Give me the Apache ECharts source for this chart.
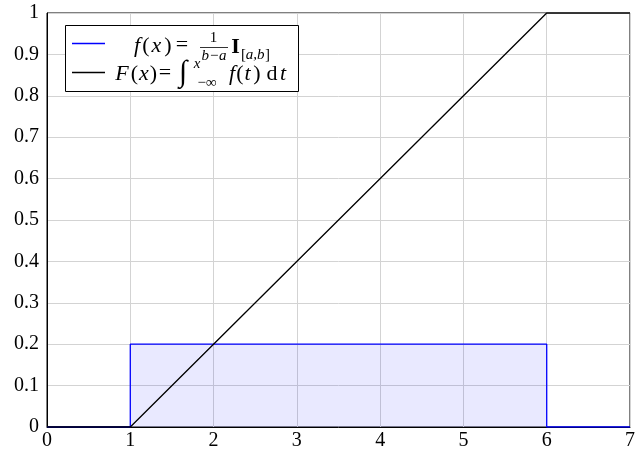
<!DOCTYPE html>
<html><head><meta charset="utf-8">
<script src="https://cdn.jsdelivr.net/npm/echarts@6/dist/echarts.min.js"></script>
<style>html,body{margin:0;padding:0;background:#fff}#c{width:643px;height:452px}</style>
</head><body><div id="c"></div>
<script>
const pdfX = [0, 1, 1, 6, 6, 7];
const pdfY = [0, 0, 0.2, 0.2, 0, 0];
const cdfX = [0, 1, 6, 7];
const cdfY = [0, 0, 1, 1];
const xTicks = [0, 1, 2, 3, 4, 5, 6, 7];
const yTicks = [0, 0.1, 0.2, 0.3, 0.4, 0.5, 0.6, 0.7, 0.8, 0.9, 1];

const FONT = 'Liberation Serif';
const chart = echarts.init(document.getElementById('c'), null, {renderer: 'canvas'});
const zip = (a, b) => a.map((v, i) => [v, b[i]]);

function t(text, x, y, size, style, weight) {
  return {type: 'text', x: x, y: y, z: 101,
    style: {text: text, fontFamily: FONT, fontSize: size, fontStyle: style || 'normal',
      fontWeight: weight || 'normal', fill: '#000', align: 'center', verticalAlign: 'middle'}};
}
const B = 22, SM = 15;

chart.setOption({
  animation: false,
  grid: {left: 47, right: 13, top: 13, bottom: 25, show: true, borderColor: '#000', borderWidth: 1},
  xAxis: {
    type: 'value', min: 0, max: 7, interval: 1,
    axisLine: {show: true, onZero: false, lineStyle: {color: '#000'}},
    axisTick: {show: false},
    splitLine: {show: true, lineStyle: {color: '#d3d3d3', width: 1}},
    axisLabel: {fontFamily: FONT, fontSize: 20, color: '#000', margin: 4,
      formatter: v => xTicks.includes(v) ? String(v) : ''}
  },
  yAxis: {
    type: 'value', min: 0, max: 1, interval: 0.1,
    axisLine: {show: true, onZero: false, lineStyle: {color: '#000'}},
    axisTick: {show: false},
    splitLine: {show: true, lineStyle: {color: '#d3d3d3', width: 1}},
    axisLabel: {fontFamily: FONT, fontSize: 20, color: '#000', margin: 8,
      formatter: v => { const k = yTicks.find(y => Math.abs(y - v) < 1e-9); return k === undefined ? '' : String(k); }}
  },
  series: [
    {name: 'pdf', type: 'line', data: zip(pdfX, pdfY), symbol: 'none',
      lineStyle: {color: '#0000ff', width: 1.3}, areaStyle: {color: 'rgba(0,0,255,0.12)', origin: 'start'}, z: 2},
    {name: 'cdf', type: 'line', data: zip(cdfX, cdfY), symbol: 'none',
      lineStyle: {color: '#000', width: 1.3}, z: 3}
  ],
  graphic: [
    {type: 'rect', shape: {x: 65.5, y: 25.5, width: 233, height: 66}, style: {fill: '#fff', stroke: '#000', lineWidth: 1}, z: 100},
    {type: 'line', shape: {x1: 72, y1: 43.5, x2: 105, y2: 43.5}, style: {stroke: '#0000ff', lineWidth: 1.3}, z: 101},
    {type: 'line', shape: {x1: 72, y1: 72.5, x2: 105, y2: 72.5}, style: {stroke: '#000', lineWidth: 1.3}, z: 101},
    // f(x) = 1/(b-a) I_[a,b]
    t('f', 137, 46, B, 'italic'), t('(', 146, 46, B), t('x', 156.5, 46, B, 'italic'), t(')', 168, 46, B),
    t('=', 182, 45, B),
    t('1', 213.5, 38, SM),
    {type: 'line', shape: {x1: 200, y1: 47.5, x2: 228, y2: 47.5}, style: {stroke: '#000', lineWidth: 0.8}, z: 101},
    t('b−a', 214, 56, SM, 'italic'),
    t('I', 235.5, 47, B, 'normal', 'bold'),
    t('[', 243.5, 55, SM), t('a,b', 255, 55, SM, 'italic'), t(']', 267.5, 55, SM),
    // F(x) = int_{-inf}^x f(t) dt
    t('F', 122, 74, B, 'italic'), t('(', 134.5, 74, B), t('x', 144, 74, B, 'italic'), t(')', 153.5, 74, B),
    t('=', 165, 73, B),
    t('∫', 183, 73, 30, 'italic'),
    t('x', 197, 64, SM, 'italic'),
    t('−∞', 207, 83, SM),
    t('f', 232, 74, B, 'italic'), t('(', 240, 74, B), t('t', 247.5, 74, B, 'italic'), t(')', 257, 74, B),
    t('d', 272, 74, B), t('t', 283, 74, B, 'italic')
  ]
});
</script></body></html>
